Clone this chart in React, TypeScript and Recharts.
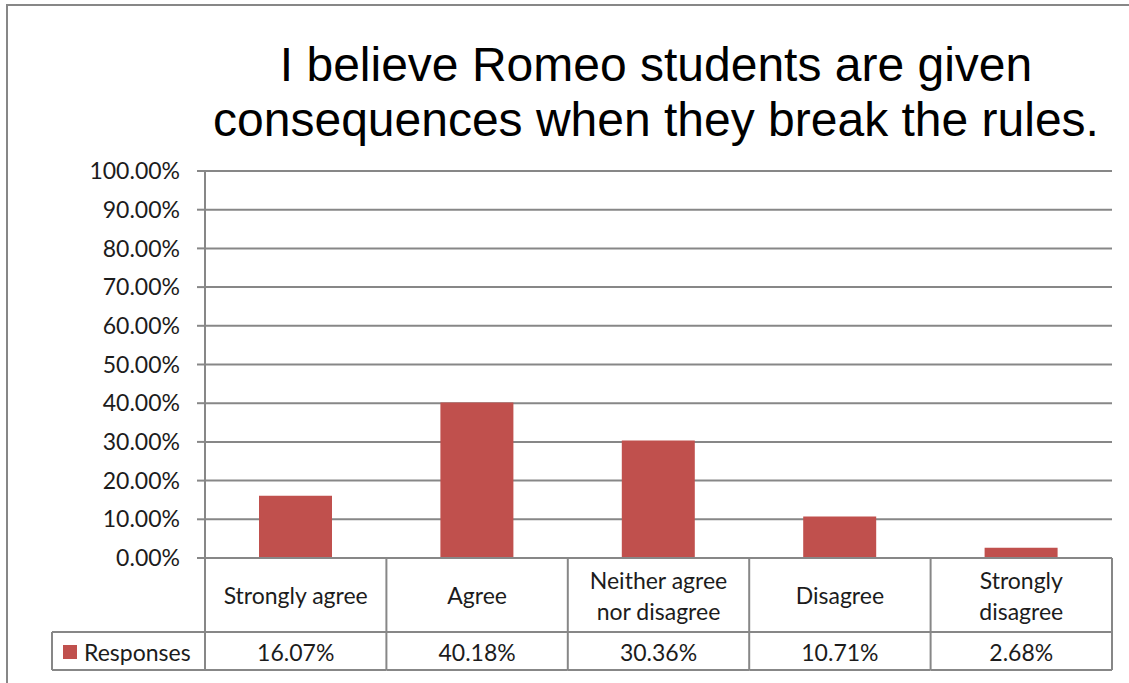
import { BarChart, Bar, XAxis, YAxis, CartesianGrid } from "recharts";

const categories = [
  "Strongly agree",
  "Agree",
  "Neither agree nor disagree",
  "Disagree",
  "Strongly disagree",
];
const responses = [16.07, 40.18, 30.36, 10.71, 2.68];
const yTicks = [0, 10, 20, 30, 40, 50, 60, 70, 80, 90, 100];
const seriesName = "Responses";
const titleLines = [
  "I believe Romeo students are given",
  "consequences when they break the rules.",
];

const W = 1129;
const H = 683;
const MARGIN = { top: 171, right: 17, bottom: 13, left: 125 };
const Y_AXIS_W = 80;
const X_AXIS_H = 112;
const HEADER_H = 74;
const PLOT_W = W - MARGIN.left - MARGIN.right - Y_AXIS_W;
const LEGEND_CELL_W = 153;
const MAX_CHARS = 14;
const LINE_H = 31;

const BAR_COLOR = "#C0504D";
const LINE_COLOR = "#878787";
const TEXT_COLOR = "#1c1c1c";
const FONT = "Lato, 'Liberation Sans', sans-serif";
const FONT_SIZE = 23;

const data = categories.map((name, i) => ({ name, value: responses[i] }));

// greedy word wrap, roughly like Excel does in the data table header
function wrap(label: string) {
  const lines: string[] = [];
  let cur = "";
  label.split(" ").forEach((w) => {
    const next = cur ? cur + " " + w : w;
    if (next.length > MAX_CHARS && cur) {
      lines.push(cur);
      cur = w;
    } else cur = next;
  });
  if (cur) lines.push(cur);
  return lines;
}

// Draws the Excel-style data table under the axis, one column per tick.
function TableTick(props: any) {
  const { x, y, payload, index } = props;
  const band = PLOT_W / categories.length;
  const left = x - band / 2;
  const right = x + band / 2;
  const bottom = y + X_AXIS_H;
  const val = responses[index];
  const line = { stroke: LINE_COLOR, strokeWidth: 2 };
  const lines = wrap(String(payload.value));
  const firstY = y + HEADER_H / 2 - ((lines.length - 1) * LINE_H) / 2;
  return (
    <g>
      {index === 0 && (
        <g>
          <line x1={left} y1={y} x2={left} y2={bottom} {...line} />
          <line x1={left - LEGEND_CELL_W} y1={y + HEADER_H} x2={left} y2={y + HEADER_H} {...line} />
          <line x1={left - LEGEND_CELL_W} y1={bottom} x2={left} y2={bottom} {...line} />
          <line x1={left - LEGEND_CELL_W} y1={y + HEADER_H} x2={left - LEGEND_CELL_W} y2={bottom} {...line} />
          <rect x={left - LEGEND_CELL_W + 11} y={y + HEADER_H + 13} width={14} height={14} fill={BAR_COLOR} />
          <text
            x={left - LEGEND_CELL_W + 32}
            y={y + HEADER_H + 20}
            dominantBaseline="central"
            fontFamily={FONT}
            fontSize={FONT_SIZE}
            fill={TEXT_COLOR}
          >
            {seriesName}
          </text>
        </g>
      )}
      <line x1={right} y1={y} x2={right} y2={bottom} {...line} />
      <line x1={left} y1={y + HEADER_H} x2={right} y2={y + HEADER_H} {...line} />
      <line x1={left} y1={bottom} x2={right} y2={bottom} {...line} />
      {lines.map((l, i) => (
        <text
          key={i}
          x={x}
          y={firstY + i * LINE_H}
          textAnchor="middle"
          dominantBaseline="central"
          fontFamily={FONT}
          fontSize={FONT_SIZE}
          fill={TEXT_COLOR}
        >
          {l}
        </text>
      ))}
      <text
        x={x}
        y={y + HEADER_H + 20}
        textAnchor="middle"
        dominantBaseline="central"
        fontFamily={FONT}
        fontSize={FONT_SIZE}
        fill={TEXT_COLOR}
      >
        {val.toFixed(2)}%
      </text>
    </g>
  );
}

export default function App() {
  return (
    <div style={{ position: "absolute", left: 0, top: 0, width: W, height: H, overflow: "hidden", background: "#fff" }}>
      <svg width={W} height={H} style={{ position: "absolute", left: 0, top: 0 }}>
        <rect x={7} y={5} width={1300} height={900} fill="none" stroke={LINE_COLOR} strokeWidth={2} />
        {titleLines.map((t, i) => (
          <text
            key={i}
            x={656}
            y={81 + i * 55}
            textAnchor="middle"
            fontFamily="'Liberation Sans', Arial, sans-serif"
            fontSize={48}
            fill="#000"
          >
            {t}
          </text>
        ))}
      </svg>
      <div style={{ position: "absolute", left: 0, top: 0 }}>
        <BarChart width={W} height={H} data={data} margin={MARGIN}>
          <CartesianGrid vertical={false} stroke={LINE_COLOR} strokeWidth={2} />
          <XAxis
            dataKey="name"
            height={X_AXIS_H}
            interval={0}
            tickSize={0}
            tickMargin={0}
            tickLine={false}
            axisLine={{ stroke: LINE_COLOR, strokeWidth: 2 }}
            tick={<TableTick />}
          />
          <YAxis
            width={Y_AXIS_W}
            domain={[0, 100]}
            ticks={yTicks}
            interval={0}
            tickSize={8}
            tickMargin={17}
            tickFormatter={(v: number) => `${v.toFixed(2)}%`}
            axisLine={{ stroke: LINE_COLOR, strokeWidth: 2 }}
            tickLine={{ stroke: LINE_COLOR, strokeWidth: 2 }}
            tick={{ fill: TEXT_COLOR, fontSize: FONT_SIZE, fontFamily: FONT }}
          />
          <Bar dataKey="value" name={seriesName} fill={BAR_COLOR} barSize={73} isAnimationActive={false} />
        </BarChart>
      </div>
    </div>
  );
}
